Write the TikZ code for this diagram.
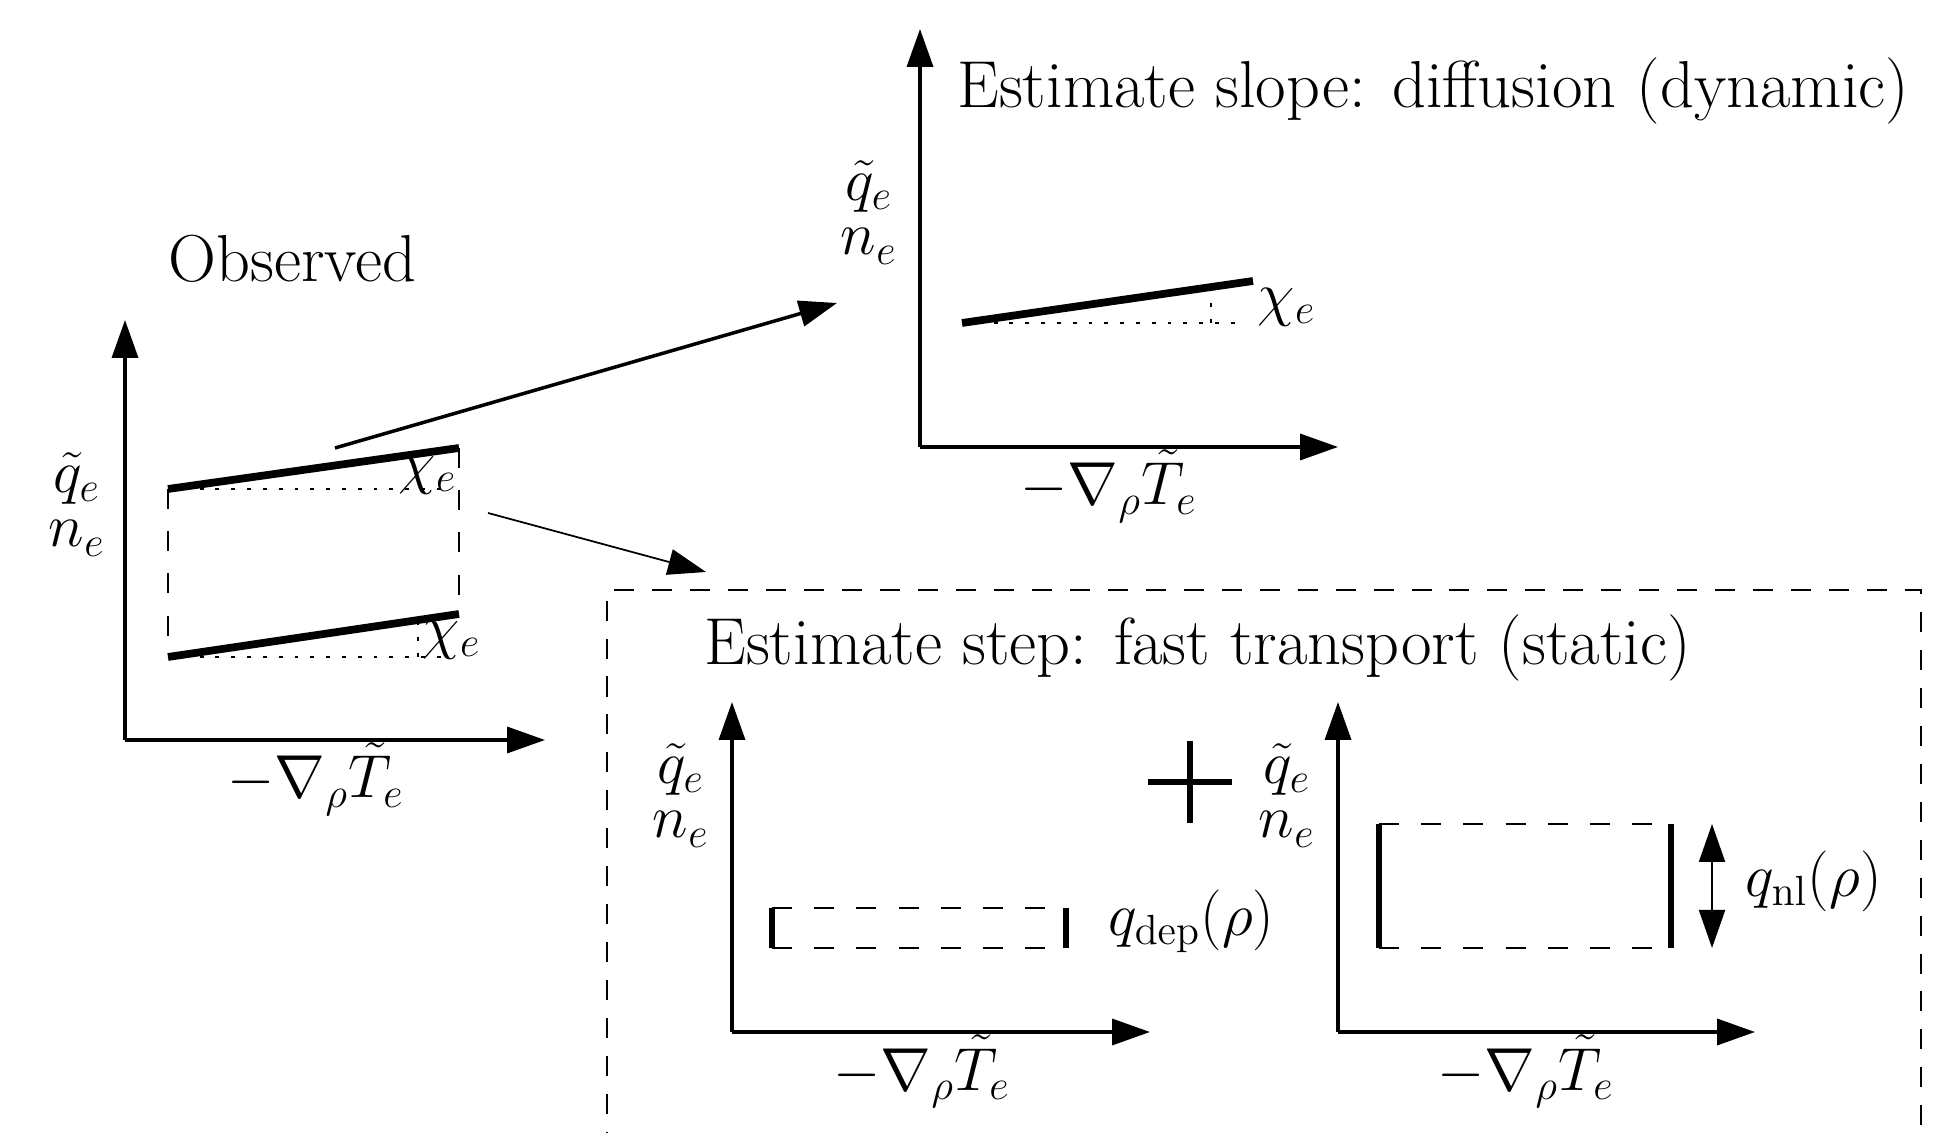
\documentclass[tikz,border=0pt]{standalone}
\usepackage{amsmath}
\usetikzlibrary{arrows.meta, positioning}

\begin{document}
\begin{tikzpicture}[>={Triangle[length=3.8mm,width=2.6mm]}, font=\fontsize{17.9}{22}\selectfont,
  axis/.style={->, line width=1pt},
  slope/.style={line width=2.2pt},
  guide/.style={line width=0.8pt, dash pattern=on 1.1pt off 3.4pt},
  level/.style={line width=0.8pt, dash pattern=on 5.7pt off 6.3pt},
  bar/.style={line width=1.8pt},
  title/.style={anchor=base west, font=\fontsize{18.9}{23}\selectfont},
  ylab/.style={anchor=base, inner sep=0pt, align=center, font=\fontsize{17.9}{15.6}\selectfont}]
  \useasboundingbox (0,0) rectangle (19.41,11.32);

  % observed: two sloped profiles
  \coordinate (obs) at (1.25,3.92);
  \coordinate (obsy) at (1.25,8.12);
  \coordinate (obsx) at (5.45,3.92);
  \draw[axis] (obs) -- (obsy);
  \draw[axis] (obs) -- (obsx);
  \node[title] (obstitle) at (1.56,8.50) {Observed};
  \node[ylab] (obsqn) at (0.77,5.85) {$\tilde{q}_e$\\$n_e$};
  \node[anchor=base] (obsgrad) at (3.16,3.34) {$-\nabla_\rho \tilde{T}_e$};
  \coordinate (hiA) at (1.68,6.43);
  \coordinate (hiB) at (4.59,6.84);
  \coordinate (loA) at (1.68,4.75);
  \coordinate (loB) at (4.59,5.18);
  \draw[guide] (hiA) -- (4.45,6.43);
  \draw[guide] (loA) -- (4.45,4.75);
  \draw[guide] (4.18,4.75) -- (4.18,5.14);
  \draw[level] (hiA) -- (loA);
  \draw[level] (hiB) -- (loB);
  \draw[slope] (hiA) -- (hiB);
  \draw[slope] (loA) -- (loB);
  \node (obschihi) at (4.28,6.57) {$\chi_e$};
  \node (obschilo) at (4.52,4.92) {$\chi_e$};

  % slope panel: diffusion
  \coordinate (dif) at (9.20,6.85);
  \coordinate (dify) at (9.20,11.03);
  \coordinate (difx) at (13.38,6.85);
  \draw[axis] (dif) -- (dify);
  \draw[axis] (dif) -- (difx);
  \node[title] (diftitle) at (9.45,10.24) {Estimate slope: diffusion (dynamic)};
  \node[ylab] (difqn) at (8.69,8.77) {$\tilde{q}_e$\\$n_e$};
  \node[anchor=base] (difgrad) at (11.09,6.27) {$-\nabla_\rho \tilde{T}_e$};
  \coordinate (difA) at (9.62,8.09);
  \coordinate (difB) at (12.53,8.51);
  \draw[guide] (difA) -- (12.38,8.09);
  \draw[guide] (12.11,8.09) -- (12.11,8.45);
  \draw[slope] (difA) -- (difB);
  \node (difchi) at (12.87,8.25) {$\chi_e$};

  % step panels: fast transport
  \draw[line width=0.7pt, dash pattern=on 5.7pt off 5.1pt]
    (6.07,-0.2) -- (6.07,5.42) -- (19.21,5.42) -- (19.21,-0.2);
  \node[title] (steptitle) at (6.92,4.67) {Estimate step: fast transport (static)};

  \coordinate (dep) at (7.32,1.00);
  \coordinate (depy) at (7.32,4.30);
  \coordinate (depx) at (11.50,1.00);
  \draw[axis] (dep) -- (depy);
  \draw[axis] (dep) -- (depx);
  \node[ylab] (depqn) at (6.81,2.94) {$\tilde{q}_e$\\$n_e$};
  \node[anchor=base] (depgrad) at (9.22,0.42) {$-\nabla_\rho \tilde{T}_e$};
  \draw[level] (7.72,2.24) -- (10.66,2.24);
  \draw[level] (7.72,1.84) -- (10.66,1.84);
  \draw[bar] (7.72,2.24) -- (7.72,1.84);
  \draw[bar] (10.66,2.24) -- (10.66,1.84);
  \node[anchor=west] (deplabel) at (10.96,2.11) {$q_{\mathrm{dep}}(\rho)$};

  \draw[line width=1.8pt] (11.48,3.50) -- (12.32,3.50);
  \draw[line width=1.8pt] (11.90,3.09) -- (11.90,3.91);

  \coordinate (nl) at (13.38,1.00);
  \coordinate (nly) at (13.38,4.30);
  \coordinate (nlx) at (17.55,1.00);
  \draw[axis] (nl) -- (nly);
  \draw[axis] (nl) -- (nlx);
  \node[ylab] (nlqn) at (12.87,2.94) {$\tilde{q}_e$\\$n_e$};
  \node[anchor=base] (nlgrad) at (15.26,0.42) {$-\nabla_\rho \tilde{T}_e$};
  \draw[level] (13.79,3.08) -- (16.71,3.08);
  \draw[level] (13.79,1.84) -- (16.71,1.84);
  \draw[bar] (13.79,3.08) -- (13.79,1.84);
  \draw[bar] (16.71,3.08) -- (16.71,1.84);
  \coordinate (nltop) at (17.12,3.08);
  \coordinate (nlbot) at (17.12,1.84);
  \draw[<->, line width=0.6pt] (nltop) -- (nlbot);
  \node[anchor=west] (nllabel) at (17.33,2.51) {$q_{\mathrm{nl}}(\rho)$};

  % split observed into slope + step
  \coordinate (toslope) at (3.35,6.84);
  \coordinate (tostep) at (4.88,6.19);
  \draw[->, line width=1pt] (toslope) -- (8.37,8.29);
  \draw[->, line width=0.5pt] (tostep) -- (7.06,5.60);
\end{tikzpicture}
\end{document}
